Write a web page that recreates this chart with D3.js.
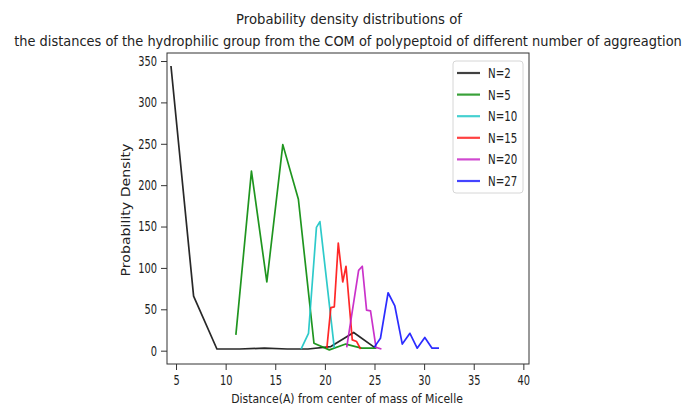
<!DOCTYPE html>
<html>
<head>
<meta charset="utf-8">
<script src="https://cdn.jsdelivr.net/npm/d3@7"></script>
<style>
body { margin:0; background:#fff; }
text { font-family:"DejaVu Sans", sans-serif; fill:#222; }
</style>
</head>
<body>
<svg id="chart"></svg>
<script>
// series
var labels = ["N=2","N=5","N=10","N=15","N=20","N=27"];
var colors = ["#111111","#078a07","#17c4c4","#ff1111","#c41cc4","#1515ff"];

var x2  = [4.49, 6.77, 9.12, 11.4, 13.9, 16.2, 18.3, 20.6, 22.9, 25.0];
var y2  = [344, 66, 2, 2, 3, 2, 2, 5, 22, 4];
var x5  = [11.03, 12.6, 14.15, 15.76, 17.33, 18.9, 20.45, 22.1, 23.7, 25.2];
var y5  = [19, 217, 83, 249, 183, 9, 1, 8, 3, 3];
var x10 = [17.6, 18.35, 19.15, 19.5, 20.95];
var y10 = [2, 21, 149, 156, 3];
var x15 = [20.2, 20.6, 20.95, 21.35, 21.8, 22.13, 22.76, 23.2, 23.6];
var y15 = [3, 52, 53, 130, 83, 102, 13, 11, 2];
var x20 = [22.2, 23.4, 23.77, 24.2, 24.6, 25.15, 25.7];
var y20 = [4, 97, 102, 49, 48, 4, 2];
var x27 = [24.97, 25.6, 26.37, 27.05, 27.8, 28.57, 29.3, 30.07, 30.8, 31.5];
var y27 = [4, 15, 70, 54, 8, 21, 3, 16, 3, 3];

var xTicks = [5,10,15,20,25,30,35,40];
var yTicks = [0,50,100,150,200,250,300,350];

var seriesX = [x2,x5,x10,x15,x20,x27];
var seriesY = [y2,y5,y10,y15,y20,y27];

var screen = {width:688, height:407};
var margins = {top:53, bottom:43, left:167, right:159};
var graph = {
    width:screen.width-margins.left-margins.right,
    height:screen.height-margins.top-margins.bottom
};
var squeeze = 0.73; // text in the picture is narrowed horizontally

var svg = d3.select("#chart")
    .attr("width",screen.width)
    .attr("height",screen.height);

var xScale = d3.scaleLinear()
    .domain([4.09,40.57])
    .range([0,graph.width]);
var yScale = d3.scaleLinear()
    .domain([-16.1,359.7])
    .range([graph.height,0]);

var g = svg.append("g")
    .attr("transform","translate("+margins.left+","+margins.top+")");

// axes
var xAxis = g.append("g")
    .attr("transform","translate(0,"+graph.height+")")
    .call(d3.axisBottom(xScale).tickValues(xTicks).tickSize(6).tickPadding(5).tickSizeOuter(0));
var yAxis = g.append("g")
    .call(d3.axisLeft(yScale).tickValues(yTicks).tickSize(6).tickPadding(4).tickSizeOuter(0));

[xAxis,yAxis].forEach(function(a)
{
    a.select(".domain").remove();
    a.selectAll("line").attr("stroke","#333");
    a.selectAll("text")
        .style("font-size","13.5px")
        .attr("fill","#222")
        .attr("transform","scale("+squeeze+",1)");
});
yAxis.selectAll("text").attr("x",-10/squeeze);

// lines
var line = d3.line()
    .x(function(d){ return xScale(d[0]); })
    .y(function(d){ return yScale(d[1]); });

seriesX.forEach(function(xs,i)
{
    var pts = xs.map(function(x,j){ return [x,seriesY[i][j]]; });
    g.append("path")
        .datum(pts)
        .attr("d",line)
        .attr("fill","none")
        .attr("stroke",colors[i])
        .attr("stroke-width",1.7)
        .attr("stroke-opacity",0.9)
        .attr("stroke-linejoin","round");
});

// frame
g.append("rect")
    .attr("width",graph.width)
    .attr("height",graph.height)
    .attr("fill","none")
    .attr("stroke","#333")
    .attr("stroke-width",1);

// legend
var legend = svg.append("g").attr("transform","translate(453,61)");
legend.append("rect")
    .attr("width",70)
    .attr("height",132)
    .attr("rx",3)
    .attr("fill","#fff")
    .attr("fill-opacity",0.8)
    .attr("stroke","#d6d6d6");
labels.forEach(function(lab,i)
{
    var yy = 12 + i*21.6;
    legend.append("line")
        .attr("x1",4).attr("x2",27)
        .attr("y1",yy).attr("y2",yy)
        .attr("stroke",colors[i])
        .attr("stroke-width",2.2)
        .attr("stroke-opacity",0.8);
    legend.append("text")
        .attr("transform","translate(35,"+(yy+5)+") scale(0.76,1)")
        .style("font-size","13.5px")
        .text(lab);
});

// squeezed text: scaled so it spans the given width
var fitText = function(msg,cx,cy,size,width,rotate)
{
    var t = svg.append("text")
        .attr("text-anchor","middle")
        .style("font-size",size+"px")
        .text(msg);
    var k = width/t.node().getComputedTextLength();
    if (rotate)
        t.attr("transform","translate("+cx+","+cy+") rotate(-90) scale("+k+",1)");
    else
        t.attr("transform","translate("+cx+","+cy+") scale("+k+",1)");
};

fitText("Probability density distributions of",349,24,14,226,false);
fitText("the distances of the hydrophilic group from the COM of polypeptoid of different number of aggreagtion",348,46,14,668,false);
fitText("Distance(A) from center of mass of Micelle",347,403,12.5,232,false);
fitText("Probability Density",130,210,12,133,true);
</script>
</body>
</html>
